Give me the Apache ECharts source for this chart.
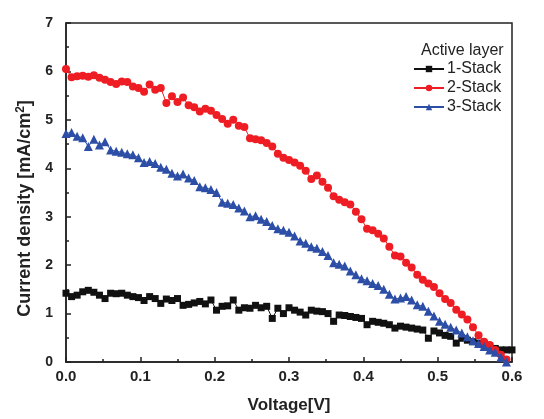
<!DOCTYPE html>
<html><head><meta charset="utf-8">
<script src="https://cdn.jsdelivr.net/npm/echarts@6/dist/echarts.min.js"></script>
<style>html,body{margin:0;padding:0;background:#fff}#c{width:544px;height:419px}</style>
</head><body><div id="c"></div>
<script>
const voltage = [];
for (let i = 0; i <= 80; i++) voltage.push(+(i * 0.0075).toFixed(4));
const stack1 = [1.42,1.35,1.38,1.45,1.48,1.44,1.38,1.31,1.42,1.41,1.42,1.38,1.35,1.33,1.27,1.35,1.31,1.21,1.30,1.27,
  1.31,1.17,1.19,1.22,1.25,1.20,1.28,1.07,1.15,1.16,1.28,1.07,1.12,1.11,1.17,1.12,1.15,0.90,1.11,1.00,
  1.12,1.07,1.03,0.97,1.07,1.05,1.04,1.00,0.84,0.97,0.96,0.94,0.92,0.90,0.77,0.84,0.82,0.80,0.77,0.70,
  0.74,0.72,0.70,0.68,0.66,0.49,0.64,0.60,0.55,0.53,0.39,0.49,0.45,0.42,0.39,0.35,0.33,0.28,0.25,0.25,0.25];
const stack2 = [6.05,5.88,5.90,5.91,5.89,5.92,5.87,5.83,5.78,5.74,5.79,5.78,5.69,5.66,5.58,5.73,5.62,5.66,5.35,5.49,
  5.37,5.46,5.30,5.26,5.17,5.23,5.19,5.10,5.02,4.92,5.00,4.88,4.85,4.62,4.60,4.58,4.52,4.45,4.30,4.22,
  4.17,4.12,4.05,3.95,3.78,3.85,3.72,3.60,3.42,3.35,3.30,3.25,3.10,2.95,2.75,2.72,2.65,2.55,2.38,2.20,
  2.18,2.05,1.95,1.80,1.70,1.62,1.55,1.42,1.30,1.22,1.08,0.98,0.88,0.72,0.55,0.42,0.35,0.25,0.15,0.05,null];
const stack3 = [4.72,4.74,4.66,4.63,4.45,4.60,4.48,4.55,4.38,4.35,4.33,4.30,4.28,4.22,4.12,4.14,4.10,4.02,3.98,3.90,
  3.84,3.88,3.80,3.75,3.62,3.60,3.56,3.50,3.30,3.28,3.25,3.18,3.12,3.00,3.02,2.95,2.90,2.82,2.75,2.72,
  2.68,2.60,2.50,2.45,2.38,2.35,2.28,2.20,2.05,2.02,1.98,1.88,1.80,1.72,1.68,1.62,1.58,1.50,1.40,1.30,
  1.32,1.35,1.28,1.18,1.15,1.05,0.95,0.84,0.78,0.72,0.66,0.60,0.52,0.44,0.38,0.32,0.25,0.20,0.10,0.00,null];
const seriesNames = ['1-Stack','2-Stack','3-Stack'];
const xTicks = ['0.0','0.1','0.2','0.3','0.4','0.5','0.6'];

const pair = arr => voltage.map((v,i)=>[v,arr[i]]).filter(p=>p[1]!==null);
const chart = echarts.init(document.getElementById('c'), null, {renderer:'canvas'});
const F = 'Liberation Sans, Arial, sans-serif';
chart.setOption({
  animation:false,
  title:{text:'Active layer', left:416, top:38, textStyle:{fontFamily:F,fontSize:16,fontWeight:'normal',color:'#222'}},
  legend:{
    data:seriesNames, orient:'vertical', left:408, top:56, itemGap:3, itemWidth:30, itemHeight:8,
    textStyle:{fontFamily:F,fontSize:16,color:'#222', padding:[0,0,0,-2]}
  },
  grid:{left:66, right:32, top:23, bottom:55, show:true, borderColor:'#222', borderWidth:1.5, backgroundColor:'transparent'},
  xAxis:{
    type:'value', min:0, max:0.6, interval:0.1,
    name:'Voltage[V]', nameLocation:'middle', nameGap:35,
    nameTextStyle:{fontFamily:F,fontSize:17,fontWeight:'bold',color:'#222'},
    axisLine:{show:true,lineStyle:{color:'#222',width:1.5}},
    axisTick:{inside:true,length:5,lineStyle:{color:'#222',width:1.5}},
    minorTick:{show:true,splitNumber:2,length:3,lineStyle:{color:'#222',width:1.5}},
    splitLine:{show:false},
    axisLabel:{fontFamily:F,fontSize:15,fontWeight:'bold',color:'#222',margin:7,
      formatter:v=>xTicks[Math.round(v*10)]}
  },
  yAxis:{
    type:'value', min:0, max:7, interval:1,
    name:'Current density [mA/cm{s|2}]', nameLocation:'middle', nameGap:27,
    nameTextStyle:{fontFamily:F,fontSize:18,fontWeight:'bold',color:'#222',padding:[0,32,0,0],
      rich:{s:{fontFamily:F,fontSize:12,fontWeight:'bold',color:'#222',verticalAlign:'top',padding:[0,0,9,0]}}},
    axisLine:{show:true,lineStyle:{color:'#222',width:1.5}},
    axisTick:{inside:true,length:5,lineStyle:{color:'#222',width:1.5}},
    minorTick:{show:true,splitNumber:2,length:3,lineStyle:{color:'#222',width:1.5}},
    splitLine:{show:false},
    axisLabel:{fontFamily:F,fontSize:14,fontWeight:'bold',color:'#222',margin:13}
  },
  series:[
    {name:seriesNames[0], type:'line', data:pair(stack1), symbol:'rect', symbolSize:7,
      itemStyle:{color:'#111'}, lineStyle:{color:'#111',width:1}, z:3},
    {name:seriesNames[1], type:'line', data:pair(stack2), symbol:'circle', symbolSize:8,
      itemStyle:{color:'#ee1d23'}, lineStyle:{color:'#ee1d23',width:1}, z:4},
    {name:seriesNames[2], type:'line', data:pair(stack3), symbol:'triangle', symbolSize:9,
      itemStyle:{color:'#2c4ea6'}, lineStyle:{color:'#2c4ea6',width:1}, z:5}
  ]
});
</script></body></html>
